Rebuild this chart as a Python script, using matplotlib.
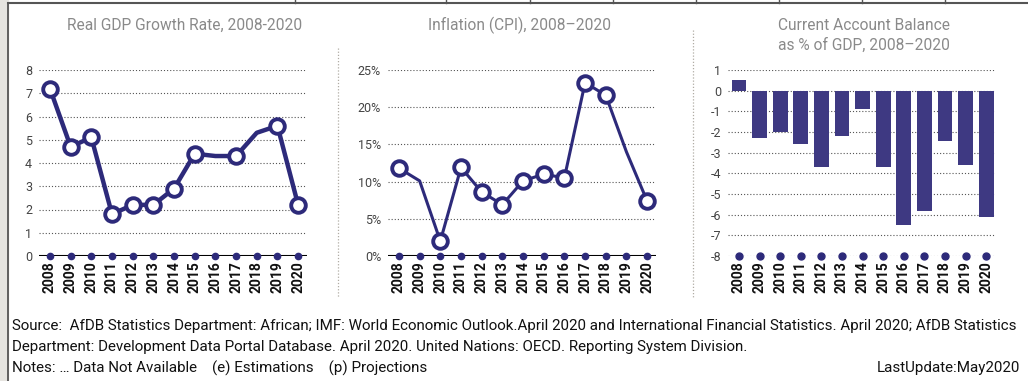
import matplotlib.pyplot as plt
from matplotlib.patches import Rectangle

# data
years = ["2008", "2009", "2010", "2011", "2012", "2013", "2014",
         "2015", "2016", "2017", "2018", "2019", "2020"]
gdp_growth = [7.2, 4.7, 5.1, 1.8, 2.2, 2.2, 2.9, 4.4, 4.3, 4.3, 5.3, 5.6, 2.2]
gdp_marked = [1, 1, 1, 1, 1, 1, 1, 1, 0, 1, 0, 1, 1]
inflation = [11.8, 10.1, 2.0, 11.9, 8.6, 6.9, 10.1, 11.0, 10.5, 23.3, 21.6, 14.0, 7.4]
infl_marked = [1, 0, 1, 1, 1, 1, 1, 1, 1, 1, 1, 0, 1]
current_account = [0.5, -2.3, -2.0, -2.6, -3.7, -2.2, -0.9,
                   -3.7, -6.5, -5.8, -2.45, -3.6, -6.1]

gdp_ticks = [0, 1, 2, 3, 4, 5, 6, 7, 8]
infl_ticks = [0, 5, 10, 15, 20, 25]
infl_labels = ["0%", "5%", "10%", "15%", "20%", "25%"]
ca_ticks = [1, 0, -1, -2, -3, -4, -5, -6, -7, -8]

NAVY = "#2d2a7a"
BAR = "#3e3982"
GRID = "#555555"
W, H = 1028, 381

plt.rcParams["font.family"] = ["Roboto", "DejaVu Sans"]


def box(x0, y0, x1, y1):
    return [x0 / W, 1 - y1 / H, (x1 - x0) / W, (y1 - y0) / H]


def fit(txt, width_px):
    # shrink a text until it is as wide as in the reference
    r = fig.canvas.get_renderer()
    w = txt.get_window_extent(r).width
    txt.set_fontsize(txt.get_fontsize() * width_px / w)


def setup(ax, ylim, yticks, ylabels=None):
    ax.set_xlim(-0.53, 12.43)
    ax.set_ylim(*ylim)
    ax.set_xticks(list(range(len(years))))
    ax.set_xticklabels(years, rotation=90, fontsize=10, fontweight="bold",
                       color="#111111")
    ax.set_yticks(yticks)
    ax.set_yticklabels(ylabels if ylabels else [str(t) for t in yticks],
                       fontsize=9, color="#444444")
    ax.tick_params(length=0, pad=5)
    ax.tick_params(axis="x", pad=4)
    for s in ax.spines.values():
        s.set_visible(False)
    for t in yticks:
        if t != 0 or ylim[0] < 0:
            ax.axhline(t, color=GRID, lw=0.8, ls=(0, (1, 1.8)), zorder=1)
    ax.patch.set_alpha(0)


fig = plt.figure(figsize=(W / 100, H / 100), dpi=100)

# decorations in pixel coordinates
deco = fig.add_axes([0, 0, 1, 1])
deco.set_xlim(0, W)
deco.set_ylim(H, 0)
deco.axis("off")
deco.add_patch(Rectangle((0, 0), 8, H, color="#e6e4e0", zorder=0))
deco.plot([8, 8], [3, H], color="#555555", lw=1.3)
deco.plot([8, W], [3, 3], color="#555555", lw=1.5)
for xv in [295, 446, 530, 613, 696, 779, 862, 945]:
    deco.plot([xv, xv], [0, 3], color="#555555", lw=1)
deco.plot([338, 338], [48, 298], color="#b0aca4", lw=0.9, ls=(0, (1, 1.5)))
deco.plot([693, 693], [30, 298], color="#b0aca4", lw=0.9, ls=(0, (1, 1.5)))

tkw = dict(ha="center", va="center", color="#8a8a8a", fontsize=12)
t1 = deco.text(185, 25, "Real GDP Growth Rate, 2008-2020", **tkw)
t2 = deco.text(520, 25, "Inflation (CPI), 2008\u20132020", **tkw)
t3 = deco.text(864, 25, "Current Account Balance", **tkw)
t4 = deco.text(864, 45, "as % of GDP, 2008\u20132020", **tkw)

fkw = dict(ha="left", va="center", color="#111111", fontsize=11)
f1 = deco.text(12, 326, "Source:  AfDB Statistics Department: African; IMF: World Economic "
               "Outlook.April 2020 and International Financial Statistics. April 2020; "
               "AfDB Statistics", **fkw)
f2 = deco.text(12, 347, "Department: Development Data Portal Database. April 2020. "
               "United Nations: OECD. Reporting System Division.", **fkw)
f3 = deco.text(12, 368, "Notes: \u2026 Data Not Available    (e) Estimations    "
               "(p) Projections", **fkw)
f4 = deco.text(1020, 368, "LastUpdate:May2020", ha="right", va="center",
               color="#111111", fontsize=11)

fit(f1, 1008)
for f in (f2, f3, f4):
    f.set_fontsize(f1.get_fontsize())
fit(t1, 234)
for t in (t2, t3, t4):
    t.set_fontsize(t1.get_fontsize())

xs = list(range(len(years)))

# panel 1: GDP growth
ax1 = fig.add_axes(box(39, 70, 307, 256))
setup(ax1, (0, 8), gdp_ticks)
ax1.axhline(0, color="black", lw=1.5, zorder=2)
ax1.plot(xs, gdp_growth, color=NAVY, lw=3.2, zorder=3, clip_on=False)
mx = [x for x, m in zip(xs, gdp_marked) if m]
my = [v for v, m in zip(gdp_growth, gdp_marked) if m]
ax1.plot(mx, my, "o", ms=10.5, mfc="white", mec=NAVY, mew=2.8, zorder=4, clip_on=False)
ax1.plot(xs, [0] * len(xs), "o", ms=4.5, color=NAVY, zorder=4, clip_on=False)

# panel 2: inflation
ax2 = fig.add_axes(box(388, 70, 656, 256))
setup(ax2, (0, 25), infl_ticks, infl_labels)
ax2.axhline(0, color="black", lw=1.5, zorder=2)
ax2.plot(xs, inflation, color=NAVY, lw=2.2, zorder=3, clip_on=False)
mx = [x for x, m in zip(xs, infl_marked) if m]
my = [v for v, m in zip(inflation, infl_marked) if m]
ax2.plot(mx, my, "o", ms=10.5, mfc="white", mec=NAVY, mew=2.8, zorder=4, clip_on=False)
ax2.plot(xs, [0] * len(xs), "o", ms=4.5, color=NAVY, zorder=4, clip_on=False)

# panel 3: current account balance
ax3 = fig.add_axes(box(728, 70, 995, 256))
setup(ax3, (-8, 1), ca_ticks)
ax3.bar(xs, current_account, width=0.72, color=BAR, zorder=3)
ax3.plot(xs, [-8] * len(xs), "o", ms=5, color=NAVY, zorder=4, clip_on=False)

fig.savefig("out.png", dpi=100)
